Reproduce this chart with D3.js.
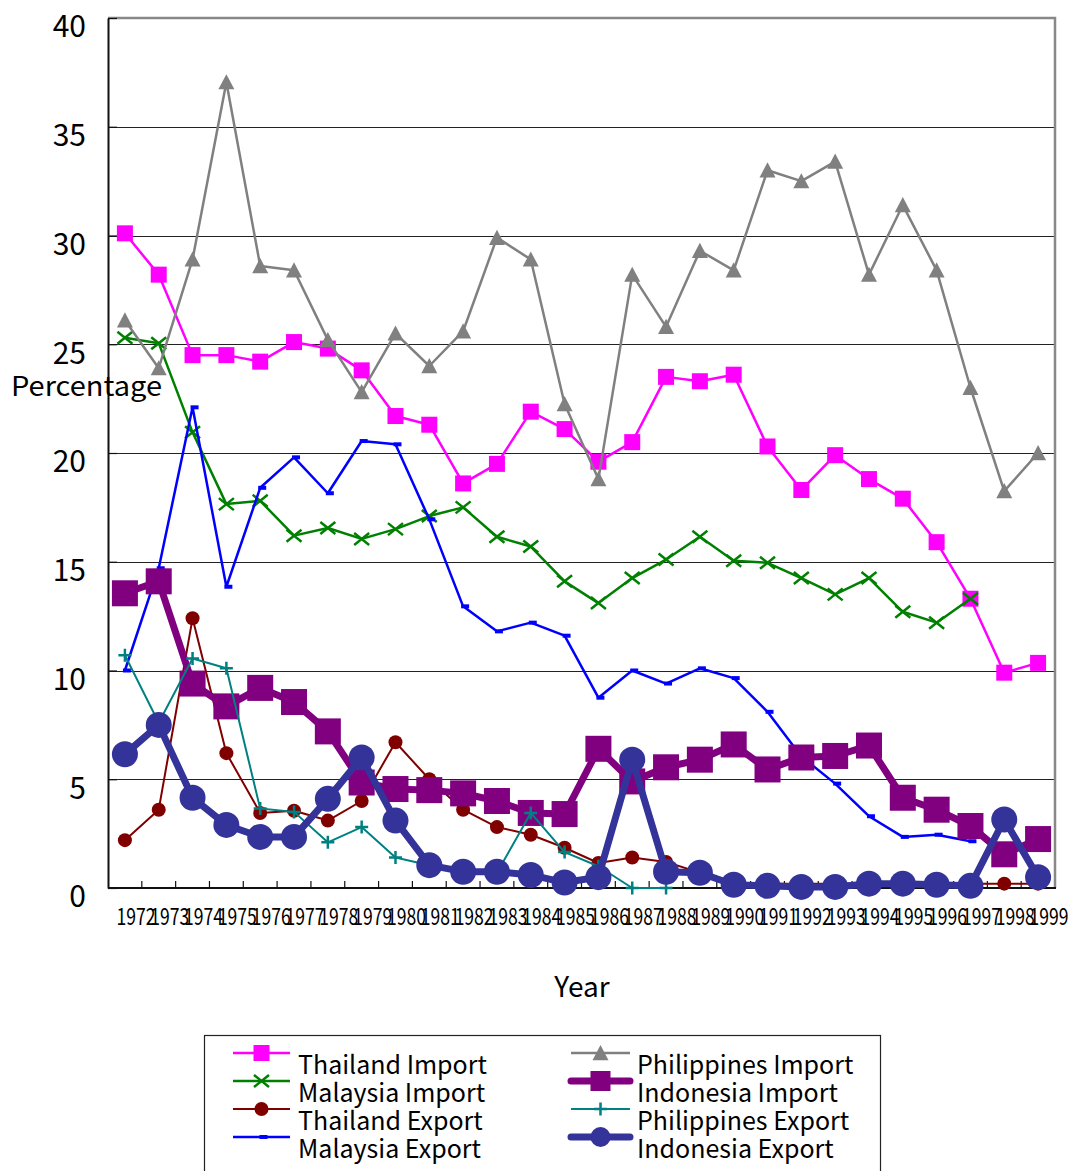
<!DOCTYPE html>
<html>
<head>
<meta charset="utf-8">
<script src="https://cdn.jsdelivr.net/npm/d3@7"></script>
<style>
  html, body { margin: 0; padding: 0; background: #fff; }
  svg text { font-family: "Noto Sans CJK JP", "Noto Sans", sans-serif; fill: #000; }
</style>
</head>
<body>
<svg id="chart" width="1073" height="1171"></svg>
<script>
// Years on the category axis
const years = [1972,1973,1974,1975,1976,1977,1978,1979,1980,1981,1982,1983,1984,1985,
               1986,1987,1988,1989,1990,1991,1992,1993,1994,1995,1996,1997,1998,1999];
const yTicks = [0,5,10,15,20,25,30,35,40];

// Shares (%) per year
const thailandImport = [30.1,28.2,24.5,24.5,24.2,25.1,24.8,23.8,21.7,21.3,18.6,19.5,21.9,21.1,
                        19.6,20.5,23.5,23.3,23.6,20.3,18.3,19.9,18.8,17.9,15.9,13.3,9.9,10.35];
const malaysiaImport = [25.3,25.05,20.95,17.65,17.8,16.2,16.55,16.05,16.5,17.1,17.5,16.15,15.7,14.1,
                        13.1,14.25,15.1,16.15,15.05,14.95,14.25,13.5,14.25,12.7,12.2,13.3,null,null];
const thailandExport = [2.2,3.6,12.4,6.2,3.45,3.55,3.1,4.0,6.7,5.0,3.6,2.8,2.45,1.85,
                        1.15,1.4,1.2,0.7,0.2,0.2,0.2,0.2,0.2,0.2,0.2,0.2,0.2,0.2];
const malaysiaExport = [10.0,14.7,22.1,13.85,18.4,19.8,18.15,20.55,20.4,16.95,12.95,11.8,12.2,11.6,
                        8.75,10.0,9.4,10.1,9.65,8.1,6.05,4.8,3.3,2.35,2.45,2.15,null,null];
const philippinesImport = [26.1,23.9,28.9,37.05,28.6,28.4,25.2,22.8,25.5,24.0,25.6,29.9,28.9,22.25,
                           18.8,28.2,25.8,29.3,28.4,33.0,32.5,33.4,28.2,31.4,28.4,23.0,18.25,20.0];
const indonesiaImport = [13.55,14.1,9.4,8.35,9.2,8.55,7.2,4.85,4.55,4.5,4.35,4.0,3.45,3.4,
                         6.4,4.9,5.55,5.9,6.6,5.45,6.0,6.07,6.55,4.15,3.6,2.85,1.55,2.25];
const philippinesExport = [10.7,7.6,10.55,10.1,3.65,3.5,2.1,2.8,1.4,1.05,0.8,0.7,3.45,1.65,
                           1.0,0.0,0.0,null,null,null,null,null,null,null,null,null,null,null];
const indonesiaExport = [6.15,7.5,4.15,2.9,2.35,2.35,4.1,6.0,3.1,1.05,0.75,0.75,0.6,0.25,
                         0.5,5.9,0.75,0.7,0.15,0.1,0.05,0.05,0.2,0.2,0.15,0.1,3.15,0.5];

const seriesNames = ["Thailand Import","Malaysia Import","Thailand Export","Malaysia Export",
                     "Philippines Import","Indonesia Import","Philippines Export","Indonesia Export"];

const series = [
  {name: seriesNames[0], values: thailandImport,    color: "#FF00FF", width: 2.5, marker: "square",   size: 16},
  {name: seriesNames[1], values: malaysiaImport,    color: "#008000", width: 2.5, marker: "x",        size: 15},
  {name: seriesNames[2], values: thailandExport,    color: "#800000", width: 2,   marker: "circle",   size: 14},
  {name: seriesNames[3], values: malaysiaExport,    color: "#0000FF", width: 2.5, marker: "dash",     size: 8},
  {name: seriesNames[4], values: philippinesImport, color: "#808080", width: 2.5, marker: "triangle", size: 16},
  {name: seriesNames[5], values: indonesiaImport,   color: "#800080", width: 7,   marker: "square",   size: 26},
  {name: seriesNames[6], values: philippinesExport, color: "#008080", width: 2,   marker: "plus",     size: 13},
  {name: seriesNames[7], values: indonesiaExport,   color: "#333399", width: 7,   marker: "circle",   size: 26}
];

const svg = d3.select("#chart");
const plot = {left: 108, right: 1055, top: 18, bottom: 888};

const x = d3.scaleBand().domain(years).range([plot.left, plot.right]).padding(0);
const xc = d => x(d) + x.bandwidth() / 2;
const y = d3.scaleLinear().domain([0, 40]).range([plot.bottom, plot.top]);

// Horizontal gridlines
svg.append("g")
  .selectAll("line")
  .data(yTicks.filter(t => t > 0 && t < 40))
  .join("line")
  .attr("x1", plot.left).attr("x2", plot.right)
  .attr("y1", d => Math.round(y(d)) + 0.5).attr("y2", d => Math.round(y(d)) + 0.5)
  .attr("stroke", "#222").attr("stroke-width", 1);

// Plot frame: grey top and right edges
svg.append("path")
  .attr("d", `M${plot.left},${plot.top}H${plot.right}V${plot.bottom}`)
  .attr("fill", "none").attr("stroke", "#888").attr("stroke-width", 2.5);

// Y axis with inward ticks; labels sit slightly below their gridline
const yAxis = d3.axisLeft(y).tickValues(yTicks).tickSizeInner(-9).tickSizeOuter(0).tickPadding(22);
const gy = svg.append("g").attr("transform", `translate(${plot.left},0)`).call(yAxis);
gy.select(".domain").attr("stroke", "#111").attr("stroke-width", 2);
gy.selectAll(".tick line").attr("stroke", "#111").attr("stroke-width", 1.2);
gy.selectAll(".tick text").attr("font-size", 30).attr("font-family", "'Noto Sans CJK JP', sans-serif")
  .attr("fill", "#000").attr("y", 8).attr("dy", "0.36em");

// X axis: ticks on band boundaries pointing into the plot
const gx = svg.append("g").attr("transform", `translate(0,${plot.bottom})`);
gx.append("line").attr("x1", plot.left).attr("x2", plot.right + 1).attr("y1", 0).attr("y2", 0)
  .attr("stroke", "#111").attr("stroke-width", 2);
gx.selectAll("line.tk")
  .data(years.slice(1))
  .join("line").attr("class", "tk")
  .attr("x1", d => x(d)).attr("x2", d => x(d))
  .attr("y1", 0).attr("y2", -7)
  .attr("stroke", "#111").attr("stroke-width", 1.2);
gx.selectAll("text")
  .data(years)
  .join("text")
  .attr("x", d => xc(d) + 11)
  .attr("y", 37)
  .attr("text-anchor", "middle")
  .attr("font-size", 23)
  .attr("textLength", 39)
  .attr("lengthAdjust", "spacingAndGlyphs")
  .text(d => d);

// Axis titles
svg.append("text").attr("x", 11).attr("y", 396).attr("font-size", 27)
  .attr("textLength", 151).attr("lengthAdjust", "spacingAndGlyphs").text("Percentage");
svg.append("text").attr("x", 582).attr("y", 997).attr("text-anchor", "middle").attr("font-size", 28)
  .text("Year");

// Marker drawing
function drawMarker(g, type, size, color) {
  const h = size / 2;
  if (type === "square") {
    g.append("rect").attr("x", -h).attr("y", -h).attr("width", size).attr("height", size).attr("fill", color);
  } else if (type === "circle") {
    g.append("circle").attr("r", h).attr("fill", color);
  } else if (type === "triangle") {
    g.append("path").attr("d", `M0,${-h}L${h},${h * 0.9}L${-h},${h * 0.9}Z`).attr("fill", color);
  } else if (type === "x") {
    g.append("path").attr("d", `M${-h},${-h * 0.8}L${h},${h * 0.8}M${-h},${h * 0.8}L${h},${-h * 0.8}`)
      .attr("stroke", color).attr("stroke-width", 2.5).attr("fill", "none");
  } else if (type === "plus") {
    g.append("path").attr("d", `M${-h},0H${h}M0,${-h}V${h}`)
      .attr("stroke", color).attr("stroke-width", 2.5).attr("fill", "none");
  } else if (type === "dash") {
    g.append("rect").attr("x", -2).attr("y", -2).attr("width", size).attr("height", 4).attr("fill", color);
  }
}

const line = d3.line()
  .defined(d => d.v !== null)
  .x(d => xc(d.year))
  .y(d => y(d.v));

series.forEach(s => {
  const pts = years.map((yr, i) => ({year: yr, v: s.values[i]}));
  const g = svg.append("g").attr("class", "series");
  g.append("path").datum(pts)
    .attr("d", line)
    .attr("fill", "none")
    .attr("stroke", s.color)
    .attr("stroke-width", s.width)
    .attr("stroke-linejoin", "round");
  g.selectAll("g.m")
    .data(pts.filter(d => d.v !== null))
    .join("g").attr("class", "m")
    .attr("transform", d => `translate(${xc(d.year)},${y(d.v)})`)
    .each(function() { drawMarker(d3.select(this), s.marker, s.size, s.color); });
});

// Legend
const legend = svg.append("g");
legend.append("rect").attr("x", 204.5).attr("y", 1035.5).attr("width", 676).attr("height", 150)
  .attr("fill", "#fff").attr("stroke", "#222").attr("stroke-width", 1.2);
const legCols = [{lx1: 233, lx2: 290, tx: 298}, {lx1: 571, lx2: 630, tx: 637}];
series.forEach((s, i) => {
  const col = legCols[Math.floor(i / 4)];
  const row = i % 4;
  const sy = 1053 + row * 28;
  const g = legend.append("g");
  g.append("line").attr("x1", col.lx1).attr("x2", col.lx2).attr("y1", sy).attr("y2", sy)
    .attr("stroke", s.color).attr("stroke-width", s.width).attr("stroke-linecap", s.width > 4 ? "round" : "butt");
  const mg = g.append("g").attr("transform", `translate(${(col.lx1 + col.lx2) / 2},${sy})`);
  drawMarker(mg, s.marker, s.size > 20 ? 20 : s.size, s.color);
  g.append("text").attr("x", col.tx).attr("y", sy + 21).attr("font-size", 25).text(s.name);
});
</script>
</body>
</html>
